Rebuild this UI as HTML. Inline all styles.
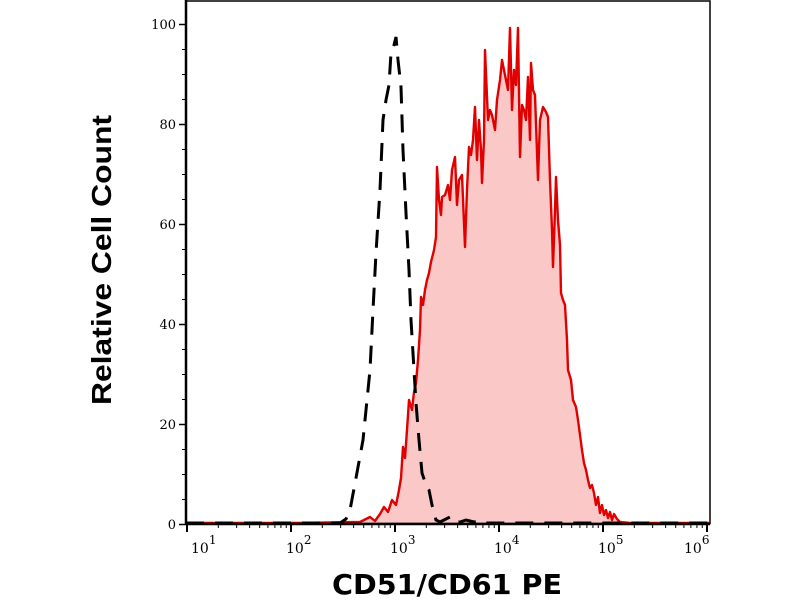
<!DOCTYPE html>
<html><head><meta charset="utf-8"><style>html,body{margin:0;padding:0;background:#fff}svg{display:block}</style></head>
<body>
<svg width="800" height="600" viewBox="0 0 800 600" xmlns="http://www.w3.org/2000/svg">
<rect width="800" height="600" fill="#fff"/>
<path d="M186,523 L300,523 L360,522 L370,517 L375,521 L380,514 L384,507 L388,512 L392,500 L396,505 L399,490 L401,478 L403,447 L405,458 L407,430 L409,400 L412,410 L414,392 L416,383 L418,360 L420,330 L421,297 L423,305 L425,290 L427,280 L429,273 L431,262 L434,250 L436,237 L437,167 L439,200 L441,215 L442,197 L445,195 L448,185 L450,200 L452,170 L455,157 L457,205 L459,180 L462,175 L465,247 L467,190 L469,147 L471,155 L473,140 L475,107 L477,160 L479,120 L481,150 L482,183 L484,140 L485,50 L488,120 L490,110 L492,115 L495,130 L497,100 L500,80 L502,60 L505,75 L508,90 L510,28 L512,110 L514,70 L516,85 L518,28 L520,157 L522,105 L524,110 L526,120 L528,77 L530,140 L531,63 L533,90 L535,95 L538,180 L540,120 L543,107 L546,112 L548,117 L550,180 L552,230 L553,267 L555,210 L556,177 L558,220 L560,245 L561,293 L563,300 L565,305 L567,340 L568,370 L571,380 L573,400 L576,407 L578,420 L580,435 L582,450 L584,463 L586,470 L588,480 L590,488 L592,485 L594,493 L596,505 L598,497 L600,513 L602,505 L604,515 L606,510 L608,518 L610,512 L612,520 L614,514 L617,519 L620,522 L630,523 L700,523 Z" fill="#fbc8c8" stroke="none"/>
<polyline points="186,523 300,523 360,522 370,517 375,521 380,514 384,507 388,512 392,500 396,505 399,490 401,478 403,447 405,458 407,430 409,400 412,410 414,392 416,383 418,360 420,330 421,297 423,305 425,290 427,280 429,273 431,262 434,250 436,237 437,167 439,200 441,215 442,197 445,195 448,185 450,200 452,170 455,157 457,205 459,180 462,175 465,247 467,190 469,147 471,155 473,140 475,107 477,160 479,120 481,150 482,183 484,140 485,50 488,120 490,110 492,115 495,130 497,100 500,80 502,60 505,75 508,90 510,28 512,110 514,70 516,85 518,28 520,157 522,105 524,110 526,120 528,77 530,140 531,63 533,90 535,95 538,180 540,120 543,107 546,112 548,117 550,180 552,230 553,267 555,210 556,177 558,220 560,245 561,293 563,300 565,305 567,340 568,370 571,380 573,400 576,407 578,420 580,435 582,450 584,463 586,470 588,480 590,488 592,485 594,493 596,505 598,497 600,513 602,505 604,515 606,510 608,518 610,512 612,520 614,514 617,519 620,522 630,523 709,523" fill="none" stroke="#e00000" stroke-width="2.4" stroke-linejoin="round"/>
<polyline points="186,523 340,523 346,519 350,510 356,478 363,440 366,410 370,370 373,310 376,253 380,190 383,120 386,100 389,85 391,53 394,45 396,37 398,60 401,87 403,150 406,213 409,270 411,320 414,370 416,403 419,440 422,473 426,485 429,490 432,505 436,520 440,522 446,519 450,517 454,522 460,522 466,520 470,521 474,522 480,521 484,523 709,523" fill="none" stroke="#000" stroke-width="3" stroke-dasharray="18,11"/>
<rect x="186" y="1" width="524" height="522.5" fill="none" stroke="#000" stroke-width="1.5"/>
<line x1="186" y1="524" x2="710" y2="524" stroke="#000" stroke-width="2.5"/>
<line x1="186" y1="0" x2="186" y2="524" stroke="#000" stroke-width="2.5"/>
<g stroke="#000" stroke-width="1.5">
<line x1="179" y1="524.5" x2="186" y2="524.5"/><line x1="179" y1="424.5" x2="186" y2="424.5"/><line x1="179" y1="324.5" x2="186" y2="324.5"/><line x1="179" y1="224.5" x2="186" y2="224.5"/><line x1="179" y1="124.5" x2="186" y2="124.5"/><line x1="179" y1="24.5" x2="186" y2="24.5"/>
</g>
<g stroke="#000" stroke-width="1">
<line x1="182" y1="499.5" x2="186" y2="499.5"/><line x1="182" y1="474.5" x2="186" y2="474.5"/><line x1="182" y1="449.5" x2="186" y2="449.5"/>
<line x1="182" y1="399.5" x2="186" y2="399.5"/><line x1="182" y1="374.5" x2="186" y2="374.5"/><line x1="182" y1="349.5" x2="186" y2="349.5"/>
<line x1="182" y1="299.5" x2="186" y2="299.5"/><line x1="182" y1="274.5" x2="186" y2="274.5"/><line x1="182" y1="249.5" x2="186" y2="249.5"/>
<line x1="182" y1="199.5" x2="186" y2="199.5"/><line x1="182" y1="174.5" x2="186" y2="174.5"/><line x1="182" y1="149.5" x2="186" y2="149.5"/>
<line x1="182" y1="99.5" x2="186" y2="99.5"/><line x1="182" y1="74.5" x2="186" y2="74.5"/><line x1="182" y1="49.5" x2="186" y2="49.5"/>
</g>
<g font-family="'DejaVu Serif','Liberation Serif',serif" font-size="13" fill="#000" text-anchor="end">
<text x="176" y="529">0</text><text x="176" y="429">20</text><text x="176" y="329">40</text><text x="176" y="229">60</text><text x="176" y="129">80</text><text x="176" y="29">100</text>
</g>
<g id="xticks" stroke="#000"></g>
<g font-family="'DejaVu Serif','Liberation Serif',serif" fill="#000">
<text x="191" y="553" font-size="14">10<tspan dy="-9" font-size="12">1</tspan></text>
<text x="286" y="553" font-size="14">10<tspan dy="-9" font-size="12">2</tspan></text>
<text x="390" y="553" font-size="14">10<tspan dy="-9" font-size="12">3</tspan></text>
<text x="494" y="553" font-size="14">10<tspan dy="-9" font-size="12">4</tspan></text>
<text x="598" y="553" font-size="14">10<tspan dy="-9" font-size="12">5</tspan></text>
<text x="684" y="553" font-size="14">10<tspan dy="-9" font-size="12">6</tspan></text>
</g>
<text x="332" y="594" font-family="'DejaVu Sans','Liberation Sans',sans-serif" font-weight="bold" font-size="28" textLength="230" lengthAdjust="spacingAndGlyphs">CD51/CD61 PE</text>
<text transform="translate(111,405) rotate(-90)" font-family="'Liberation Sans',sans-serif" font-weight="bold" font-size="28" textLength="290" lengthAdjust="spacingAndGlyphs">Relative Cell Count</text>
<script>
(function(){var g=document.getElementById('xticks');var ns='http://www.w3.org/2000/svg';
var x0=187,d=104;
for(var k=0;k<=5;k++){var bx=x0+k*d;
 var l=document.createElementNS(ns,'line');l.setAttribute('x1',bx);l.setAttribute('x2',bx);l.setAttribute('y1',524);l.setAttribute('y2',532);l.setAttribute('stroke-width',2);g.appendChild(l);
 if(k<5){for(var m=2;m<=9;m++){var mx=bx+d*Math.log10(m);var t=document.createElementNS(ns,'line');t.setAttribute('x1',mx);t.setAttribute('x2',mx);t.setAttribute('y1',524);t.setAttribute('y2',528);t.setAttribute('stroke-width',1);g.appendChild(t);}}
}})();
</script>
</svg>
</body></html>
